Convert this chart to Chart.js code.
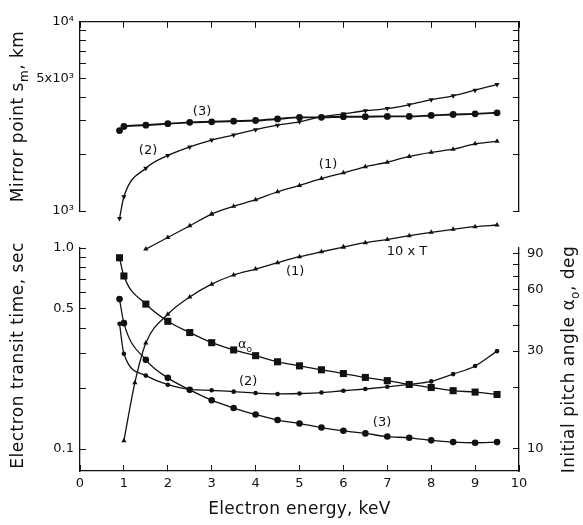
<!DOCTYPE html>
<html>
<head>
<meta charset="utf-8">
<script src="https://cdn.jsdelivr.net/npm/chart.js@4.4.1/dist/chart.umd.min.js"></script>
<style>
  html, body { margin: 0; padding: 0; background: #fff; }
  #wrap { position: relative; width: 583px; height: 525px; }
  #wrap canvas { position: absolute; left: 0; top: 0; }
</style>
</head>
<body>
<div id="wrap">
  <canvas id="mirror" width="583" height="525"></canvas>
  <canvas id="transit" width="583" height="525"></canvas>
</div>
<script>
// electron energies, keV
const energy = [0.9, 1, 1.5, 2, 2.5, 3, 3.5, 4, 4.5, 5, 5.5, 6, 6.5, 7, 7.5, 8, 8.5, 9, 9.5];
const energyFrom15 = [1.5, 2, 2.5, 3, 3.5, 4, 4.5, 5, 5.5, 6, 6.5, 7, 7.5, 8, 8.5, 9, 9.5];
const energyTenT = [1, 1.25, 1.5, 2, 2.5, 3, 3.5, 4, 4.5, 5, 5.5, 6, 6.5, 7, 7.5, 8, 8.5, 9, 9.5];

// mirror point s_m, km
const mirror1 = [629, 724, 835, 963, 1059, 1148, 1264, 1365, 1485, 1591, 1712, 1810, 1943, 2042, 2121, 2265, 2336];
const mirror2 = [912, 1189, 1684, 1966, 2181, 2371, 2521, 2692, 2842, 2962, 3151, 3263, 3388, 3479, 3643, 3877, 4060, 4350, 4661];
const mirror3 = [2661, 2796, 2842, 2895, 2942, 2962, 2985, 3009, 3065, 3126, 3126, 3151, 3151, 3162, 3162, 3199, 3236, 3262, 3304];

// transit time, sec (curve 1 is plotted as 10 x T)
const tenT = [0.110, 0.214, 0.337, 0.468, 0.571, 0.661, 0.734, 0.786, 0.845, 0.905, 0.958, 1.011, 1.063, 1.102, 1.151, 1.197, 1.239, 1.277, 1.301];
const transit2 = [0.420, 0.298, 0.232, 0.209, 0.198, 0.196, 0.193, 0.190, 0.188, 0.189, 0.191, 0.195, 0.199, 0.204, 0.210, 0.217, 0.236, 0.259, 0.307];
const transit3 = [0.557, 0.423, 0.278, 0.226, 0.197, 0.175, 0.160, 0.1485, 0.1394, 0.134, 0.128, 0.1233, 0.1197, 0.1154, 0.1138, 0.1105, 0.1083, 0.1075, 0.1083];

// initial pitch angle, deg
const alpha0 = [86, 70, 51, 42, 37, 33, 30.4, 28.5, 26.6, 25.4, 24.3, 23.3, 22.3, 21.5, 20.6, 19.9, 19.2, 18.9, 18.4];

// axis ticks and the ones that carry labels
const energyTicks = [0, 1, 2, 3, 4, 5, 6, 7, 8, 9, 10];
const mirrorTicks = [1000, 2000, 3000, 4000, 5000, 6000, 7000, 8000, 9000, 10000];
const mirrorLabels = [[1000, '10³'], [5000, '5x10³'], [10000, '10⁴']];
const transitTicks = [0.1, 0.2, 0.3, 0.4, 0.5, 0.6, 0.7, 0.8, 0.9, 1.0];
const transitLabels = [[0.1, '0.1'], [0.5, '0.5'], [1.0, '1.0']];
const pitchTicks = [10, 20, 30, 40, 50, 60, 70, 80, 90];
const pitchLabels = [[10, '10'], [30, '30'], [60, '60'], [90, '90']];

const INK = '#111';
const FAMILY = "'DejaVu Sans', sans-serif";
const TICK_FONT = { family: FAMILY, size: 13 };

function labelFor(pairs) {
  return v => {
    const hit = pairs.find(p => Math.abs(p[0] - v) < 1e-6 * Math.max(1, p[0]));
    return hit ? hit[1] : '';
  };
}

function points(xs, ys) {
  return ys.map((y, i) => ({ x: xs[i], y }));
}

function curve(xs, ys, style, extra) {
  return Object.assign({
    data: points(xs, ys),
    borderColor: INK,
    backgroundColor: INK,
    borderWidth: 1.3,
    pointBackgroundColor: INK,
    pointBorderWidth: 0,
    pointStyle: style,
    pointRadius: 3,
    cubicInterpolationMode: 'monotone',
    clip: false
  }, extra || {});
}

function logAxis(position, min, max, ticks, labels, width, pad) {
  return {
    type: 'logarithmic',
    position, min, max,
    afterBuildTicks: s => { s.ticks = ticks.map(v => ({ value: v })); },
    afterFit: s => { s.width = width; },
    border: { color: INK, width: 1.3 },
    grid: { drawOnChartArea: false, tickLength: -6, color: INK, lineWidth: 1 },
    ticks: { color: INK, font: TICK_FONT, padding: pad, autoSkip: false, callback: labelFor(labels) }
  };
}

function energyAxis(position, height, showLabels) {
  return {
    type: 'linear',
    position, min: 0, max: 10,
    afterBuildTicks: s => { s.ticks = energyTicks.map(v => ({ value: v })); },
    afterFit: s => { s.height = height; },
    border: { color: INK, width: 1.3 },
    grid: { drawOnChartArea: false, tickLength: -6, color: INK, lineWidth: 1 },
    ticks: { color: INK, font: TICK_FONT, padding: 11, autoSkip: false, maxRotation: 0,
             callback: v => showLabels ? String(v) : '' }
  };
}

// point elements skip themselves outside the chart area; the curves run past
// the panel edges, so markers out there are drawn again against a wider box
const overflowPoints = {
  id: 'overflowPoints',
  afterDatasetsDraw(chart) {
    const a = chart.chartArea;
    const wide = { left: -1e4, top: -1e4, right: 1e4, bottom: 1e4 };
    chart.data.datasets.forEach((ds, i) => {
      chart.getDatasetMeta(i).data.forEach(pt => {
        if (pt.x < a.left || pt.x > a.right || pt.y < a.top || pt.y > a.bottom) {
          pt.draw(chart.ctx, wide);
        }
      });
    });
  }
};

// text with subscript runs, centred on (x, y), optionally rotated to read upwards
function drawRich(ctx, parts, x, y, size, upright, spacing) {
  ctx.save();
  ctx.translate(x, y);
  if (upright) ctx.rotate(-Math.PI / 2);
  ctx.letterSpacing = spacing || '0px';
  ctx.textBaseline = 'middle';
  ctx.textAlign = 'left';
  ctx.fillStyle = INK;
  const fontOf = sub => `${sub ? Math.round(size * 0.68) : size}px ${FAMILY}`;
  const widths = parts.map(([t, sub]) => { ctx.font = fontOf(sub); return ctx.measureText(t).width; });
  let cx = -widths.reduce((a, b) => a + b, 0) / 2;
  parts.forEach(([t, sub], i) => {
    ctx.font = fontOf(sub);
    ctx.fillText(t, cx, sub ? size * 0.32 : 0);
    cx += widths[i];
  });
  ctx.restore();
}

function notesPlugin(notes, yId, titles) {
  return {
    id: 'notes',
    afterDraw(chart) {
      const { ctx, scales } = chart;
      notes.forEach(n => {
        const px = scales.x.getPixelForValue(n.e);
        const py = scales[yId].getPixelForValue(n.v);
        drawRich(ctx, n.parts, px, py, 13, false);
      });
      titles(chart);
    }
  };
}

const mirrorNotes = [
  { parts: [['(3)', 0]], e: 2.78, v: 3350 },
  { parts: [['(2)', 0]], e: 1.55, v: 2090 },
  { parts: [['(1)', 0]], e: 5.65, v: 1760 }
];

const transitNotes = [
  { parts: [['(1)', 0]], e: 4.9, v: 0.76 },
  { parts: [['10 x T', 0]], e: 7.45, v: 0.955 },
  { parts: [['α', 0], ['o', 1]], e: 3.76, v: 0.329 },
  { parts: [['(2)', 0]], e: 3.83, v: 0.2155 },
  { parts: [['(3)', 0]], e: 6.88, v: 0.136 }
];

const baseOptions = {
  responsive: false,
  animation: false,
  devicePixelRatio: 1,
  plugins: { legend: { display: false }, tooltip: { enabled: false } }
};

// upper panel: mirror point altitude
new Chart(document.getElementById('mirror'), {
  type: 'line',
  data: {
    datasets: [
      curve(energy, mirror3, 'circle', { pointRadius: 3.4, borderWidth: 1.9 }),
      curve(energy, mirror2, 'triangle', { pointRotation: 180 }),
      curve(energyFrom15, mirror1, 'triangle')
    ]
  },
  options: Object.assign({}, baseOptions, {
    layout: { padding: { left: 0, right: 0, top: 0, bottom: 314 } },
    scales: {
      x: energyAxis('top', 10, false),
      y: logAxis('left', 1000, 10000, mirrorTicks, mirrorLabels, 80, 12),
      yR: logAxis('right', 1000, 10000, mirrorTicks, [], 64, 14)
    }
  }),
  plugins: [overflowPoints, notesPlugin(mirrorNotes, 'y', chart => {
    const s = chart.scales.y;
    drawRich(chart.ctx, [['Mirror point s', 0], ['m', 1], [', km', 0]], 19, (s.top + s.bottom) / 2, 17, true, '0.5px');
  })]
});

// lower panel: transit time and initial pitch angle
new Chart(document.getElementById('transit'), {
  type: 'line',
  data: {
    datasets: [
      curve(energy, alpha0, 'rect', { pointRadius: 5, yAxisID: 'yDeg' }),
      curve(energy, transit2, 'circle', { pointRadius: 2.3 }),
      curve(energy, transit3, 'circle', { pointRadius: 3.3 }),
      curve(energyTenT, tenT, 'triangle')
    ]
  },
  options: Object.assign({}, baseOptions, {
    layout: { padding: { left: 0, right: 0, top: 248, bottom: 0 } },
    scales: {
      x: energyAxis('bottom', 54, true),
      y: logAxis('left', 0.0778, 1.0, transitTicks, transitLabels, 80, 12),
      yDeg: logAxis('right', 7.76, 96, pitchTicks, pitchLabels, 64, 14)
    }
  }),
  plugins: [overflowPoints, notesPlugin(transitNotes, 'y', chart => {
    const { ctx, scales } = chart;
    const l = scales.y, r = scales.yDeg, x = scales.x;
    drawRich(ctx, [['Electron transit time, sec', 0]], 19, (l.top + l.bottom) / 2 - 4, 17, true, '0.5px');
    drawRich(ctx, [['Initial pitch angle α', 0], ['o', 1], [', deg', 0]], 570, (r.top + r.bottom) / 2, 17, true, '0.5px');
    drawRich(ctx, [['Electron energy, keV', 0]], (x.left + x.right) / 2, 510, 17, false, '0.3px');
  })]
});
</script>
</body>
</html>
